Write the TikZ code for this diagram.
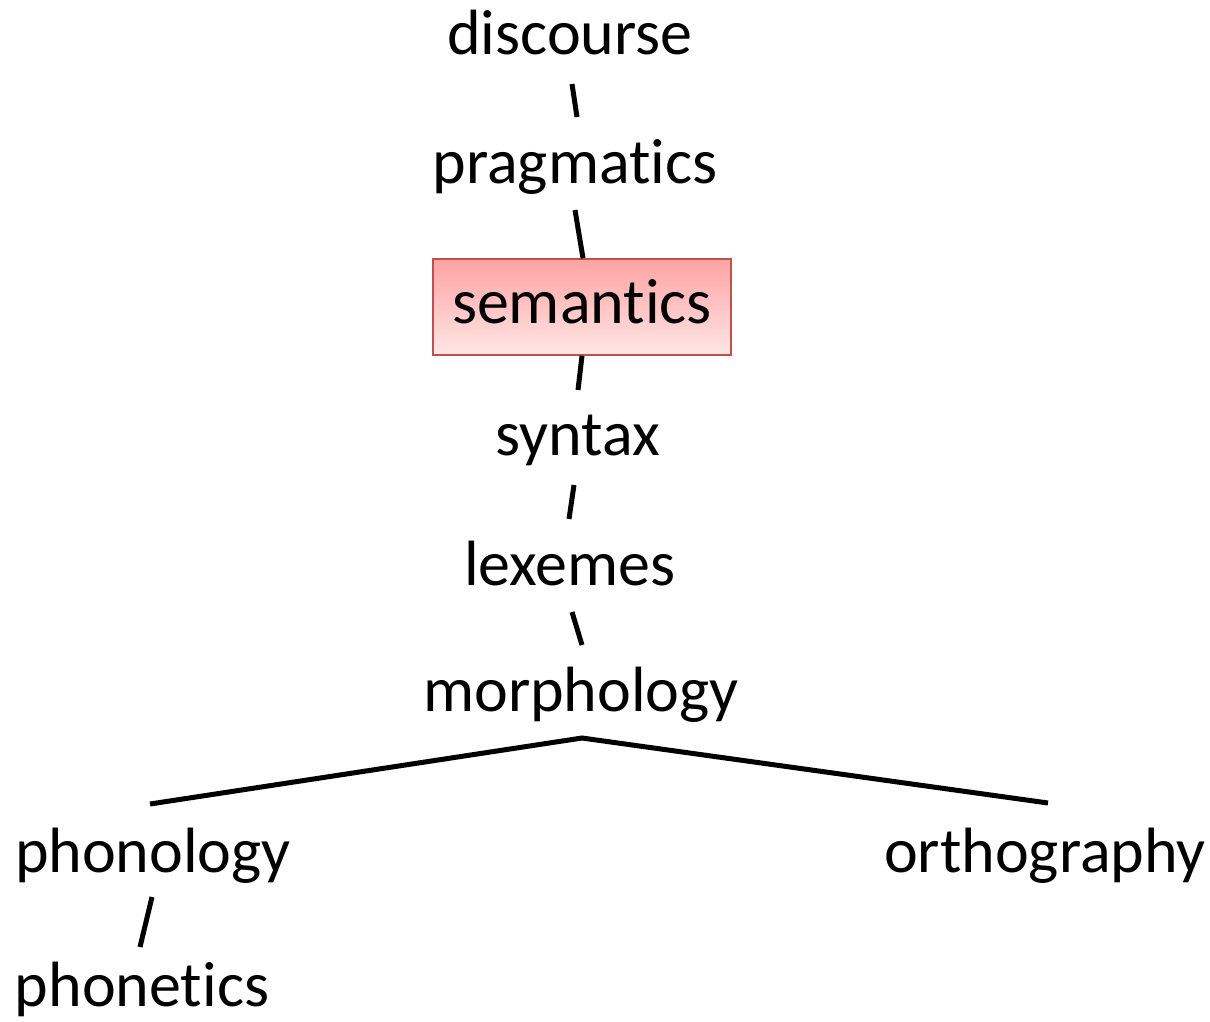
\documentclass[tikz,border=0pt]{standalone}
\usepackage{fontspec}
\setmainfont{Carlito}[Ligatures=NoCommon]
\definecolor{boxedge}{RGB}{192,80,77}
\definecolor{boxtop}{RGB}{255,163,163}
\definecolor{boxbottom}{RGB}{255,230,230}
\begin{document}
\begin{tikzpicture}[x=1pt,y=-1pt,
  term/.style={anchor=base,inner sep=0pt,font=\fontsize{64}{77}\selectfont},
  focus/.style={term,draw=boxedge,line width=1.5pt,
    top color=boxtop,bottom color=boxbottom,
    minimum width=298pt,text height=64pt,text depth=32pt},
  link/.style={line width=5pt}]
\useasboundingbox (0,0) rectangle (1210,1022);

% levels of description
\node[term]  (discourse)   at (570,55)   {discourse};
\node[term]  (pragmatics)  at (575,183)  {pragmatics};
\node[focus] (semantics)   at (582,323)  {semantics};
\node[term]  (syntax)      at (578,455)  {syntax};
\node[term]  (lexemes)     at (570,585)  {lexemes};
\node[term]  (morphology)  at (581,711)  {morphology};
\node[term]  (phonology)   at (153,872)  {phonology};
\node[term]  (orthography) at (1045,872) {orthography};
\node[term]  (phonetics)   at (142,1006) {phonetics};

% end points of the short links between levels
\coordinate (d1) at (572,84);  \coordinate (p1) at (577,117);
\coordinate (p2) at (575,210);
\coordinate (s2) at (578,390);
\coordinate (x1) at (574,485); \coordinate (l1) at (569,519);
\coordinate (l2) at (572,612); \coordinate (m1) at (582,645);
\coordinate (m2) at (582,738);
\coordinate (ph1) at (150,804); \coordinate (or1) at (1048,803);
\coordinate (ph2) at (152,897); \coordinate (pt1) at (140,947);

\draw[link] (d1) -- (p1);
\draw[link] (p2) -- (semantics.north -| 583,0);
\draw[link] (semantics.south -| 582,0) -- (s2);
\draw[link] (x1) -- (l1);
\draw[link] (l2) -- (m1);
\draw[link] (ph1) -- (m2) -- (or1);
\draw[link] (ph2) -- (pt1);
\end{tikzpicture}
\end{document}
